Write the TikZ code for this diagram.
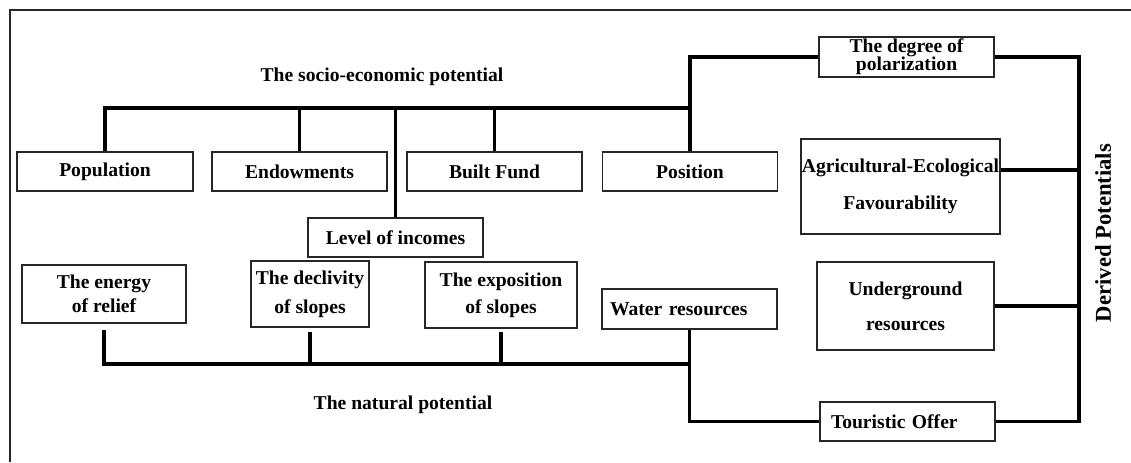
\documentclass[tikz,border=0pt]{standalone}
\usepackage{fontspec}
\setmainfont{Liberation Serif}
\newcommand{\bsk}[1]{\bfseries\fontsize{14.7pt}{#1}\selectfont}
\tikzset{
  box/.style={draw=black!85, line width=1.2pt, inner sep=0pt, align=center, font=\bsk{18pt}},
  wh/.style 2 args={minimum width=#1*0.75pt, minimum height=#2*0.75pt},
  conn/.style={line width=2.3pt, draw=black},
  ttl/.style={inner sep=0pt, font=\bsk{18pt}},
  frame/.style={line width=1pt, draw=black!85}
}
\begin{document}
\begin{tikzpicture}[x=0.75pt, y=-0.75pt]
\useasboundingbox (0,0) rectangle (1131,462);
\fill[white] (0,0) rectangle (1131,462);
\draw[frame] (1131,10) -- (10,10) -- (10,462);

% titles
\node[ttl] (socio) at (382,77) {The socio-economic potential};
\node[ttl] (natural) at (403,405) {The natural potential};
\node[ttl, rotate=90, font=\bfseries\fontsize{17pt}{20pt}\selectfont] (derived) at (1103,233) {Derived Potentials};

% top row
\node[box, wh={175}{40}, font=\bsk{13.5pt}] (pol) at (906.5,57) {The degree of\\polarization};
\node[box, wh={176}{39}] (pop) at (105,171.5) {Population};
\node[box, wh={175}{39}] (end) at (299.5,171.5) {Endowments};
\node[box, wh={175}{39}] (built) at (494.5,171.5) {Built Fund};
\node[box, wh={175}{39}] (pos) at (690,171.5) {Position};
\node[box, wh={199}{95}, font=\bsk{28pt}] (agri) at (900.5,186.5) {Agricultural-Ecological\\Favourability};
\node[box, wh={175}{39}] (inc) at (395.5,237.5) {Level of incomes};

% natural row
\node[box, wh={164}{58}, font=\bsk{18pt}] (energy) at (104,294) {The energy\\of relief};
\node[box, wh={118}{66}, font=\bsk{21.5pt}] (decl) at (310,294) {The declivity\\of slopes};
\node[box, wh={152}{66}, font=\bsk{20pt}] (expo) at (501,295) {The exposition\\of slopes};
\node[box, wh={175}{40}, align=left, text width={159*0.75pt}, inner xsep=6pt] (water) at (689.5,309) {Water resources};
\node[box, wh={177}{88}, font=\bsk{26pt}] (under) at (905.5,306) {Underground\\resources};
\node[box, wh={175}{39}, align=left, text width={153*0.75pt}, inner xsep=8.25pt] (tour) at (907.5,421.5) {Touristic Offer};

% coordinates
\coordinate (top) at (0,108);
\coordinate (nat) at (0,364);
\coordinate (rx) at (1079,0);

% socio-economic tree
\draw[conn] (pop.north) -- (pop.north |- top) -- (pos.north |- top) |- (pol.west);
\draw[conn] (pos.north) -- (pos.north |- top);
\draw[conn] (end.north) -- (end.north |- top);
\draw[conn] (built.north) -- (built.north |- top);
\draw[conn] (inc.north) -- (inc.north |- top);

% derived potentials
\draw[conn] (pol.east) -| (rx |- tour.east) -- (tour.east);
\draw[conn] ([yshift=12.4pt]agri.east) coordinate (ae) -- (ae -| rx);
\draw[conn] (under.east) -- (under.east -| rx);

% natural tree
\draw[conn] ([yshift=-5pt]energy.south) coordinate (e1) -- (e1 |- nat) -- (water.south |- nat);
\draw[conn] ([yshift=-3pt]decl.south) coordinate (d1) -- (d1 |- nat);
\draw[conn] ([yshift=-2.5pt]expo.south) coordinate (x1) -- (x1 |- nat);
\draw[conn] (water.south) |- (tour.west);
\end{tikzpicture}
\end{document}
